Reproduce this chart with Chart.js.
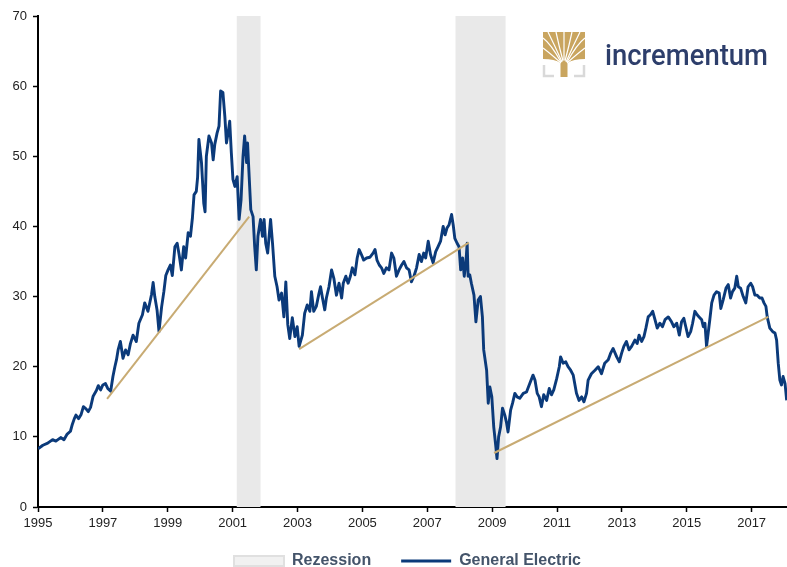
<!DOCTYPE html>
<html>
<head>
<meta charset="utf-8">
<script src="https://cdn.jsdelivr.net/npm/chart.js@4.4.1/dist/chart.umd.min.js"></script>
<style>
html,body{margin:0;padding:0;background:#fff;}
#wrap{position:relative;width:787px;height:567px;overflow:hidden;}
canvas{display:block;}
#logo{position:absolute;left:540px;top:28px;}
</style>
</head>
<body>
<div id="wrap">
<canvas id="c" width="787" height="567"></canvas>
<svg id="logo" width="240" height="56" viewBox="0 0 240 56">
  <g transform="translate(3,4)">
    <path d="M0,0 H42 V27 Q30,27 24.5,31 L24.5,45 H17.5 L17.5,31 Q12,27 0,27 Z" fill="#C9A55F"/>
    <g stroke="#ffffff" stroke-width="1.2" fill="none">
      <path d="M19,30 Q12,14 5,0"/>
      <path d="M20,29 Q16,14 13,0"/>
      <path d="M21,28 Q21,14 21,0"/>
      <path d="M22,29 Q26,14 29,0"/>
      <path d="M23,30 Q30,14 37,0"/>
      <path d="M18,31 Q8,22 0,16"/>
      <path d="M24,31 Q34,22 42,16"/>
      <path d="M18,30 Q8,12 0,6"/>
      <path d="M24,30 Q34,12 42,6"/>
    </g>
    <path d="M1,33 V44 H11 M31,44 H41 V33" stroke="#D9D9D9" stroke-width="2.5" fill="none"/>
  </g>
  <text x="65" y="37" font-family="Roboto, 'Liberation Sans', sans-serif" font-weight="500" font-size="29" fill="#2D3E6B" textLength="163" lengthAdjust="spacingAndGlyphs">incrementum</text>
</svg>
</div>
<script>
// ---- Data ----
const geDates = [
 1995.00,1995.15,1995.30,1995.45,1995.55,1995.70,1995.80,1995.90,1996.00,1996.06,
 1996.12,1996.17,1996.25,1996.33,1996.40,1996.48,1996.55,1996.62,1996.70,1996.80,
 1996.86,1996.93,1997.00,1997.08,1997.15,1997.24,1997.31,1997.37,1997.42,1997.47,
 1997.54,1997.62,1997.70,1997.78,1997.85,1997.93,1998.03,1998.11,1998.22,1998.29,
 1998.39,1998.50,1998.55,1998.60,1998.67,1998.73,1998.81,1998.88,1998.94,1999.01,
 1999.08,1999.14,1999.22,1999.29,1999.35,1999.42,1999.49,1999.55,1999.63,1999.70,
 1999.76,1999.81,1999.88,1999.92,1999.96,2000.04,2000.11,2000.15,2000.19,2000.27,
 2000.35,2000.40,2000.45,2000.52,2000.58,2000.63,2000.70,2000.76,2000.81,2000.86,
 2000.91,2000.96,2001.01,2001.07,2001.14,2001.20,2001.26,2001.32,2001.37,2001.43,
 2001.46,2001.51,2001.56,2001.63,2001.68,2001.73,2001.78,2001.86,2001.92,2001.97,
 2002.02,2002.08,2002.17,2002.23,2002.30,2002.37,2002.43,2002.51,2002.58,2002.64,
 2002.70,2002.76,2002.84,2002.92,2002.99,2003.05,2003.15,2003.22,2003.30,2003.38,
 2003.43,2003.50,2003.58,2003.65,2003.71,2003.77,2003.84,2003.89,2003.97,2004.05,
 2004.12,2004.20,2004.28,2004.36,2004.41,2004.49,2004.56,2004.63,2004.69,2004.77,
 2004.84,2004.90,2004.97,2005.04,2005.13,2005.23,2005.33,2005.39,2005.45,2005.52,
 2005.59,2005.66,2005.74,2005.82,2005.90,2005.97,2006.05,2006.13,2006.21,2006.28,
 2006.36,2006.44,2006.51,2006.59,2006.67,2006.75,2006.82,2006.89,2006.95,2007.03,
 2007.10,2007.18,2007.26,2007.33,2007.41,2007.49,2007.55,2007.61,2007.67,2007.75,
 2007.80,2007.85,2007.92,2007.98,2008.03,2008.09,2008.14,2008.19,2008.23,2008.26,
 2008.31,2008.36,2008.44,2008.50,2008.57,2008.64,2008.70,2008.74,2008.83,2008.88,
 2008.93,2008.99,2009.05,2009.11,2009.15,2009.20,2009.26,2009.32,2009.39,2009.44,
 2009.49,2009.57,2009.63,2009.70,2009.77,2009.85,2009.96,2010.06,2010.16,2010.26,
 2010.32,2010.39,2010.45,2010.52,2010.59,2010.68,2010.76,2010.83,2010.90,2010.99,
 2011.07,2011.11,2011.19,2011.27,2011.34,2011.42,2011.50,2011.60,2011.68,2011.76,
 2011.83,2011.91,2011.96,2012.06,2012.17,2012.27,2012.37,2012.47,2012.58,2012.65,
 2012.73,2012.84,2012.92,2012.99,2013.06,2013.14,2013.22,2013.30,2013.40,2013.47,
 2013.53,2013.61,2013.68,2013.74,2013.81,2013.88,2013.95,2014.02,2014.09,2014.17,
 2014.25,2014.33,2014.43,2014.53,2014.60,2014.69,2014.77,2014.84,2014.91,2014.97,
 2015.04,2015.12,2015.18,2015.25,2015.32,2015.38,2015.46,2015.51,2015.56,2015.61,
 2015.66,2015.71,2015.77,2015.84,2015.92,2016.00,2016.05,2016.12,2016.21,2016.28,
 2016.35,2016.41,2016.48,2016.54,2016.59,2016.66,2016.74,2016.82,2016.89,2016.97,
 2017.03,2017.10,2017.17,2017.25,2017.32,2017.38,2017.44,2017.48,2017.56,2017.65,
 2017.72,2017.77,2017.82,2017.87,2017.92,2017.97,2018.03,2018.08
];
const gePrices = [
 8.3,8.8,9.1,9.6,9.4,9.9,9.6,10.4,10.8,11.8,
 12.6,13.1,12.6,13.2,14.3,14.0,13.6,14.2,15.8,16.6,
 17.3,16.7,17.4,17.6,16.9,16.5,18.6,20.0,21.0,22.4,
 23.6,21.2,22.4,21.7,23.3,24.5,23.6,26.2,27.4,29.1,
 27.9,30.3,32.0,30.0,28.1,25.0,28.5,30.7,33.0,33.8,
 34.5,33.0,37.1,37.6,36.0,33.8,37.1,35.5,39.1,38.6,
 41.2,44.5,45.0,47.0,52.4,49.1,43.3,42.1,50.0,52.9,
 51.9,49.5,51.7,53.3,54.3,59.3,59.1,55.7,51.9,53.3,
 55.0,50.5,46.7,45.7,47.1,41.0,43.8,50.0,52.9,49.1,
 51.9,47.1,42.4,41.4,37.1,33.8,38.6,41.0,38.6,41.0,
 37.6,36.2,41.0,37.6,32.9,31.4,29.5,30.5,27.1,32.1,
 26.0,24.0,27.0,24.3,25.7,22.9,24.5,27.6,28.8,27.9,
 30.7,27.9,28.6,30.2,31.4,29.8,28.1,29.8,31.4,33.8,
 32.6,30.2,31.9,29.8,31.9,32.9,31.9,32.9,34.1,33.1,
 35.5,36.7,36.0,35.2,35.5,35.6,36.2,36.7,35.2,34.5,
 34.1,33.3,34.1,33.8,36.2,35.5,32.9,33.8,34.5,35.0,
 34.1,33.8,32.1,32.9,34.1,36.0,35.0,36.2,35.5,37.9,
 36.0,34.8,36.4,37.1,37.9,40.0,38.8,39.8,40.2,41.7,
 40.2,38.3,37.6,37.1,33.8,35.5,32.9,34.8,37.6,32.9,
 33.1,31.9,30.2,26.4,29.5,30.0,27.1,22.4,19.5,14.8,
 17.1,15.7,11.4,8.8,6.9,10.0,11.4,14.1,13.1,12.1,
 10.7,13.8,14.8,16.2,15.7,15.5,16.2,16.4,17.6,18.8,
 18.1,16.2,15.7,14.3,16.0,15.2,16.9,16.0,16.7,18.3,
 20.0,21.4,20.5,20.7,20.0,19.5,18.8,16.2,15.2,15.7,
 15.0,16.2,18.1,19.0,19.5,20.0,19.0,20.5,21.0,21.9,
 22.6,21.4,20.7,21.9,22.9,23.6,22.4,22.9,23.8,23.3,
 24.5,23.6,24.3,25.5,27.1,27.4,27.9,26.7,25.5,26.2,
 25.7,26.7,27.1,26.4,25.7,26.2,24.5,26.4,26.9,25.7,
 24.3,25.0,26.2,27.9,27.4,27.1,26.7,25.7,26.2,22.9,
 24.8,26.7,29.1,30.2,30.7,30.5,28.3,29.5,31.2,31.7,
 29.8,30.7,31.2,32.9,31.4,31.2,30.0,29.1,31.4,31.9,
 31.4,30.2,30.2,29.8,29.8,29.1,28.6,27.1,25.5,25.0,
 24.8,23.8,20.5,18.1,17.4,18.6,17.6,15.2
];
const trendStartYears  = [1997.13, 2003.05, 2009.06];
const trendStartValues = [15.4, 22.5, 7.7];
const trendEndYears    = [2001.51, 2008.28, 2017.51];
const trendEndValues   = [41.4, 37.7, 27.1];
const recessionStarts  = [2001.12, 2007.87];
const recessionEnds    = [2001.86, 2009.42];
const xTickYears = [1995,1997,1999,2001,2003,2005,2007,2009,2011,2013,2015,2017];
const yTickValues = [0,10,20,30,40,50,60,70];
const xMin = 1995, xMax = 2018.09, yMin = 0, yMax = 70;
const seriesLabels = ['Rezession', 'General Electric'];

// ---- Build datasets ----
const NAVY = '#0B3A7A';
const GOLD = '#C8AB73';
const FONT = "'Liberation Sans', Arial, sans-serif";

const geData = geDates.map((d, i) => ({x: d, y: gePrices[i]}));
const recData = [];
recessionStarts.forEach((s, i) => {
  const e = recessionEnds[i];
  recData.push({x: s, y: yMin}, {x: s, y: yMax}, {x: e, y: yMax}, {x: e, y: yMin});
});
const trendSets = trendStartYears.map((s, i) => ({
  label: 'trend' + i,
  data: [{x: s, y: trendStartValues[i]}, {x: trendEndYears[i], y: trendEndValues[i]}],
  borderColor: GOLD, borderWidth: 2, pointRadius: 0, fill: false, tension: 0, order: 1
}));

// move the legend block up / right after layout (keeps its bottom so nothing is clipped)
const legendShift = {
  id: 'legendShift',
  afterLayout(chart) {
    const lg = chart.legend;
    if (!lg) return;
    const dy = -14, dx = 14;
    lg.top += dy; lg.left += dx; lg.right += dx;
    lg.height = lg.bottom - lg.top;
  }
};

new Chart(document.getElementById('c'), {
  type: 'line',
  data: {
    datasets: [
      {label: seriesLabels[0], data: recData, borderWidth: 0, borderColor: 'rgba(0,0,0,0)',
       backgroundColor: '#E9E9E9', fill: 'origin', pointRadius: 0, tension: 0, order: 10},
      {label: seriesLabels[1], data: geData, borderColor: NAVY, borderWidth: 2.9,
       pointRadius: 0, fill: false, tension: 0, order: 5, borderJoinStyle: 'round'},
      ...trendSets
    ]
  },
  plugins: [legendShift],
  options: {
    responsive: false,
    animation: false,
    events: [],
    layout: {padding: {left: 0, right: 0, top: 16, bottom: 0}},
    plugins: {
      tooltip: {enabled: false},
      legend: {
        position: 'bottom',
        maxHeight: 30,
        labels: {
          usePointStyle: true,
          pointStyleWidth: 50,
          boxHeight: 10,
          padding: 30,
          color: '#44546A',
          font: {family: FONT, size: 16, weight: 'bold'},
          generateLabels(chart) {
            const items = Chart.defaults.plugins.legend.labels.generateLabels(chart);
            return items.filter(it => it.datasetIndex < 2)
              .sort((a, b) => a.datasetIndex - b.datasetIndex)
              .map(it => {
                if (it.datasetIndex === 0) {
                  it.pointStyle = 'rect'; it.fillStyle = '#F1F1F1';
                  it.strokeStyle = '#E0E0E0'; it.lineWidth = 2;
                } else {
                  it.pointStyle = 'line'; it.strokeStyle = NAVY; it.lineWidth = 3;
                }
                return it;
              });
          }
        }
      }
    },
    scales: {
      x: {
        type: 'linear', min: xMin, max: xMax,
        afterBuildTicks: s => { s.ticks = xTickYears.map(v => ({value: v})); },
        afterFit: s => { s.height = 30; },
        ticks: {callback: v => String(v), autoSkip: false, maxRotation: 0, padding: 4,
                color: '#222', font: {family: FONT, size: 13}},
        grid: {drawOnChartArea: false, drawTicks: true, tickLength: 5, tickColor: '#000', tickWidth: 1.5},
        border: {color: '#000', width: 2}
      },
      y: {
        type: 'linear', min: yMin, max: yMax,
        afterBuildTicks: s => { s.ticks = yTickValues.map(v => ({value: v})); },
        afterFit: s => { s.width = 38; },
        ticks: {padding: 6, color: '#222', font: {family: FONT, size: 13}},
        grid: {drawOnChartArea: false, drawTicks: true, tickLength: 5, tickColor: '#000', tickWidth: 1.5},
        border: {color: '#000', width: 2}
      }
    }
  }
});
</script>
</body>
</html>
